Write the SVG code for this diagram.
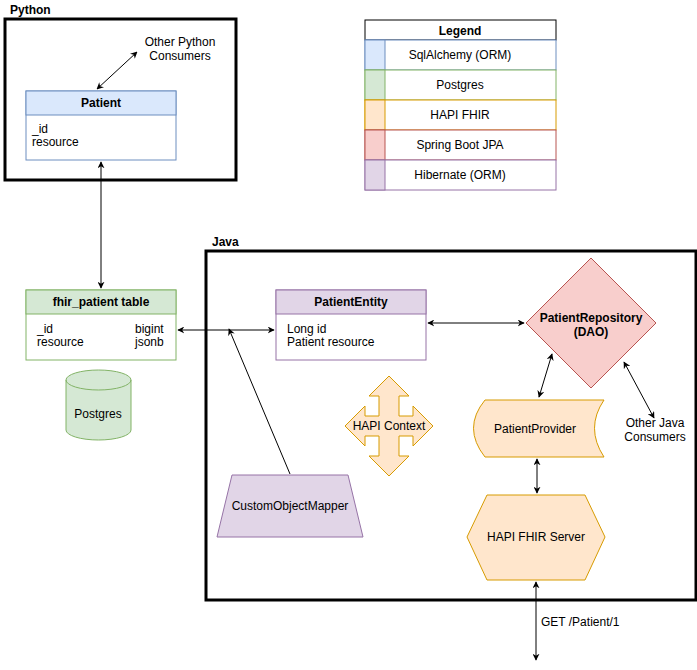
<svg xmlns="http://www.w3.org/2000/svg" width="697" height="670" viewBox="0 0 697 670">
<defs>
<marker id="a" viewBox="0 0 10 10" refX="9" refY="5" markerWidth="7" markerHeight="7" orient="auto-start-reverse"><path d="M0,0 L10,5 L0,10 L3,5 Z" fill="#000"/></marker>
<style>
text{font-family:"Liberation Sans",Arial,sans-serif;font-size:12px;fill:#000}
.b{font-weight:bold}
.m{text-anchor:middle}
.frame{fill:none;stroke:#000;stroke-width:3}
.c{stroke:#000;stroke-width:1;fill:none;marker-start:url(#a);marker-end:url(#a)}
.blue{fill:#dae8fc;stroke:#6c8ebf}
.green{fill:#d5e8d4;stroke:#82b366}
.orange{fill:#ffe6cc;stroke:#d79b00}
.red{fill:#f8cecc;stroke:#b85450}
.purple{fill:#e1d5e7;stroke:#9673a6}
</style>
</defs>
<rect width="697" height="670" fill="#fff"/>
<g id="python"><rect class="frame" x="5" y="19" width="231" height="161"/><text class="b" x="10" y="14">Python</text></g>
<g id="java"><rect class="frame" x="206" y="251" width="490" height="349"/><text class="b" x="212" y="246">Java</text></g>
<g id="patient">
<rect x="26" y="91" width="150" height="69" fill="#fff" stroke="#6c8ebf"/>
<rect class="blue" x="26" y="91" width="150" height="24"/>
<text class="b m" x="101" y="107">Patient</text>
<text x="32" y="133">_id</text><text x="32" y="146">resource</text>
</g>
<g id="otherpy"><text class="m" x="180" y="46">Other Python</text><text class="m" x="180" y="60">Consumers</text></g>
<g id="legend">
<rect x="365" y="20" width="191" height="20" fill="#fff" stroke="#000"/>
<text class="b m" x="460" y="35">Legend</text>
<rect x="365" y="40" width="191" height="30" fill="#fff" stroke="#6c8ebf"/><rect class="blue" x="365" y="40" width="20" height="30"/><text class="m" x="460" y="59">SqlAlchemy (ORM)</text>
<rect x="365" y="70" width="191" height="30" fill="#fff" stroke="#82b366"/><rect class="green" x="365" y="70" width="20" height="30"/><text class="m" x="460" y="89">Postgres</text>
<rect x="365" y="100" width="191" height="30" fill="#fff" stroke="#d79b00"/><rect class="orange" x="365" y="100" width="20" height="30"/><text class="m" x="460" y="119">HAPI FHIR</text>
<rect x="365" y="130" width="191" height="30" fill="#fff" stroke="#b85450"/><rect class="red" x="365" y="130" width="20" height="30"/><text class="m" x="460" y="149">Spring Boot JPA</text>
<rect x="365" y="160" width="191" height="30" fill="#fff" stroke="#9673a6"/><rect class="purple" x="365" y="160" width="20" height="30"/><text class="m" x="460" y="179">Hibernate (ORM)</text>
</g>
<g id="fhirtable">
<rect x="26" y="290" width="150" height="70" fill="#fff" stroke="#82b366"/>
<rect class="green" x="26" y="290" width="150" height="24"/>
<text class="b m" x="101" y="306">fhir_patient table</text>
<text x="37" y="333">_id</text><text x="37" y="346">resource</text>
<text x="135" y="333">bigint</text><text x="135" y="346">jsonb</text>
</g>
<g id="postgres">
<path class="green" d="M66,380 V430 A32.5,10 0 0 0 131,430 V380 A32.5,10 0 0 0 66,380 Z"/>
<path d="M66,380 A32.5,10 0 0 0 131,380" fill="none" stroke="#82b366"/>
<text class="m" x="98" y="418">Postgres</text>
</g>
<g id="entity">
<rect x="276" y="290" width="150" height="70" fill="#fff" stroke="#9673a6"/>
<rect class="purple" x="276" y="290" width="150" height="24"/>
<text class="b m" x="351" y="306">PatientEntity</text>
<text x="287" y="333">Long id</text><text x="287" y="346">Patient resource</text>
</g>
<g id="repo">
<path class="red" d="M591,258 L656,323 L591,388 L526,323 Z"/>
<text class="b m" x="591" y="322">PatientRepository</text><text class="b m" x="591" y="336">(DAO)</text>
</g>
<g id="otherjava"><text class="m" x="655" y="427">Other Java</text><text class="m" x="655" y="441">Consumers</text></g>
<g id="provider">
<path class="orange" d="M485,400 H604 Q585,428 604,457 H485 Q462,428 485,400 Z"/>
<text class="m" x="535" y="433">PatientProvider</text>
</g>
<g id="server">
<path class="orange" d="M467,537 L487,495 H585 L605,537 L585,580 H487 Z"/>
<text class="m" x="536" y="541">HAPI FHIR Server</text>
</g>
<g id="context">
<polygon class="orange" points="389,376 409,396 399,396 399,416 413,416 413,406 433,426 413,446 413,436 399,436 399,456 409,456 389,476 369,456 379,456 379,436 365,436 365,446 345,426 365,406 365,416 379,416 379,396 369,396"/>
<text class="m" x="389" y="430">HAPI Context</text>
</g>
<g id="mapper">
<path class="purple" d="M232,475 H348 L363,537 H217 Z"/>
<text class="m" x="290" y="510">CustomObjectMapper</text>
</g>
<g id="connectors">
<line class="c" x1="97" y1="89" x2="137" y2="52"/>
<line class="c" x1="101" y1="162" x2="101" y2="288"/>
<line class="c" x1="178" y1="330" x2="274" y2="330"/>
<line class="c" x1="428" y1="323" x2="524" y2="323"/>
<line class="c" x1="552" y1="354" x2="539" y2="397"/>
<line class="c" x1="624" y1="362" x2="654" y2="418"/>
<line class="c" x1="537" y1="459" x2="537" y2="493"/>
<line class="c" x1="536" y1="582" x2="536" y2="660"/>
<line x1="290" y1="474" x2="229" y2="329" stroke="#000" marker-end="url(#a)"/>
<text x="541" y="626">GET /Patient/1</text>
</g>
</svg>
